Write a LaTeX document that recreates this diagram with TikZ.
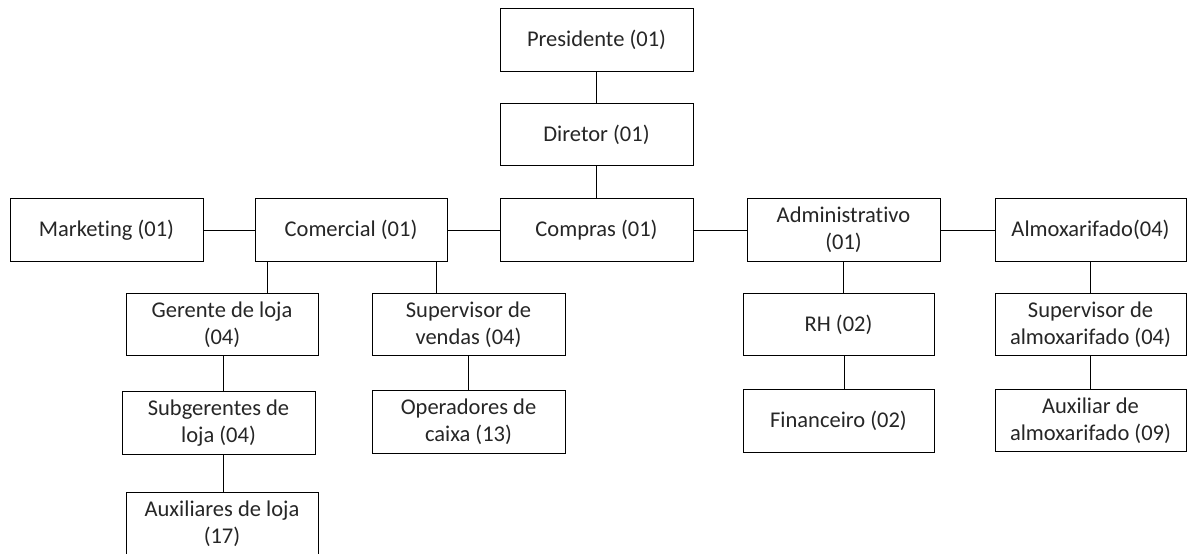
\documentclass[tikz,border=0pt]{standalone}
\usepackage{fontspec}
\setmainfont{Carlito}[Ligatures=NoCommon]
\begin{document}
\begin{tikzpicture}[x=1pt,y=-1pt,
  orgbox/.style={draw=black, line width=1pt, fill=white, inner sep=0pt, align=center,
    minimum height=62.5pt, font=\fontsize{22.5}{27}\selectfont, text=black!85},
  link/.style={draw=black, line width=1pt}]
\useasboundingbox (0,0) rectangle (1187,554);
\clip (0,0) rectangle (1187,554);
% row 1-3 centre column
\node[orgbox, minimum width=193pt] (pres) at (596.5,40) {Presidente (01)};
\node[orgbox, minimum width=193pt] (dir)  at (596.5,134.5) {Diretor (01)};
\node[orgbox, minimum width=193pt] (comp) at (596.5,230) {Compras (01)};
% row 3
\node[orgbox, minimum width=193pt] (mkt) at (106.5,230) {Marketing (01)};
\node[orgbox, minimum width=192pt] (com) at (351,230) {Comercial (01)};
\node[orgbox, minimum width=193pt] (adm) at (843.5,230) {Administrativo\\(01)};
\node[orgbox, minimum width=191pt] (alm) at (1090.5,230) {Almoxarifado(04)};
% row 4
\node[orgbox, minimum width=192pt] (ger) at (222,324.5) {Gerente de loja\\(04)};
\node[orgbox, minimum width=193pt] (sup) at (468.5,324.5) {Supervisor de\\vendas (04)};
\node[orgbox, minimum width=191pt] (rh) at (838.5,324.5) {RH (02)};
\node[orgbox, minimum width=191pt] (salm) at (1090.5,324.5) {Supervisor de\\almoxarifado (04)};
% row 5
\node[orgbox, minimum width=193pt] (sub) at (218.5,423) {Subgerentes de\\loja (04)};
\node[orgbox, minimum width=193pt] (op) at (468.5,422) {Operadores de\\caixa (13)};
\node[orgbox, minimum width=191pt] (fin) at (838.5,421) {Financeiro (02)};
\node[orgbox, minimum width=191pt] (aalm) at (1090.5,420.5) {Auxiliar de\\almoxarifado (09)};
% row 6
\node[orgbox, minimum width=192pt] (aux) at (222,523.5) {Auxiliares de loja\\(17)};
% connectors
\draw[link] (pres.south) -- (dir.north);
\draw[link] (dir.south) -- (comp.north);
\draw[link] (mkt.east) -- (com.west);
\draw[link] (com.east) -- (comp.west);
\draw[link] (comp.east) -- (adm.west);
\draw[link] (adm.east) -- (alm.west);
\draw[link] ([xshift=-84pt]com.south) -- ([xshift=-84pt]com.south |- ger.north);
\draw[link] ([xshift=85pt]com.south) -- ([xshift=85pt]com.south |- sup.north);
\draw[link] ([xshift=1pt]ger.south) -- ([xshift=1pt]ger.south |- sub.north);
\draw[link] ([xshift=4.5pt]sub.south) -- ([xshift=4.5pt]sub.south |- aux.north);
\draw[link] (sup.south) -- (sup.south |- op.north);
\draw[link] (adm.south) -- (adm.south |- rh.north);
\draw[link] ([xshift=5.5pt]rh.south) -- ([xshift=5.5pt]rh.south |- fin.north);
\draw[link] ([xshift=-0.5pt]alm.south) -- ([xshift=-0.5pt]alm.south |- salm.north);
\draw[link] ([xshift=-0.5pt]salm.south) -- ([xshift=-0.5pt]salm.south |- aalm.north);
\end{tikzpicture}
\end{document}
